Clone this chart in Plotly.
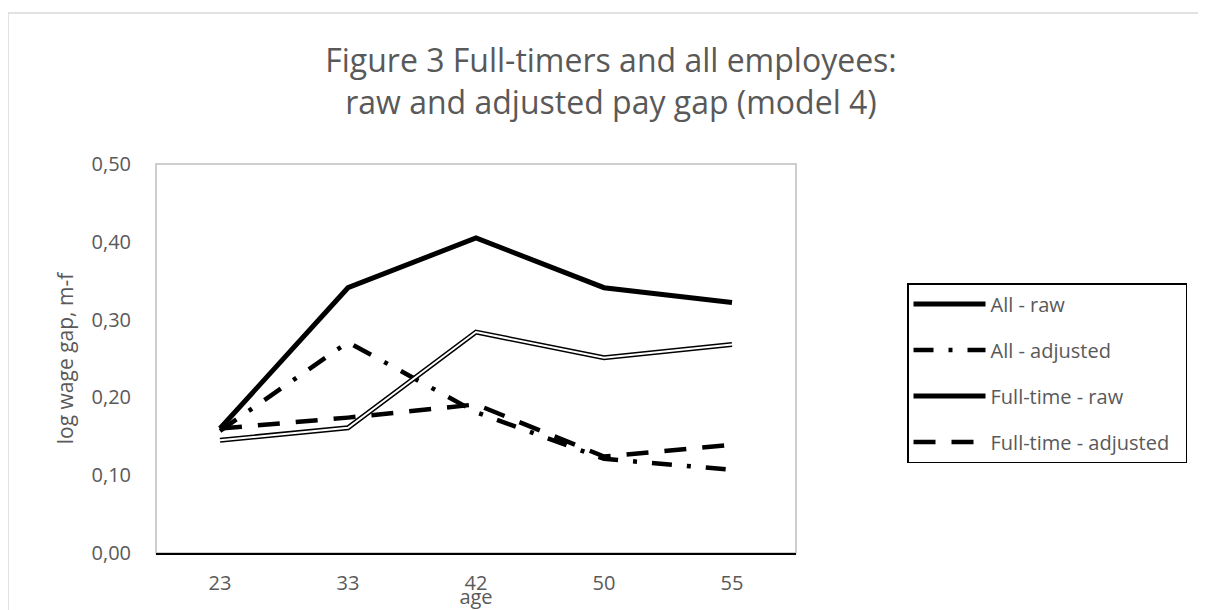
import plotly.graph_objects as go

ages = ["23", "33", "42", "50", "55"]
all_raw = [0.160, 0.341, 0.405, 0.341, 0.322]
all_adj = [0.157, 0.271, 0.181, 0.121, 0.107]
ft_raw = [0.145, 0.161, 0.284, 0.251, 0.268]
ft_adj = [0.160, 0.174, 0.191, 0.124, 0.139]

# page has an 8px body margin, so figure coords = page coords - 8
OFF = 8
W, H = 1206 - OFF, 610 - OFF
L, R, T, B = 156 - OFF, 796 - OFF, 164 - OFF, 553 - OFF
FONT = "Open Sans"
GRAY = "#595959"

fig = go.Figure()
fig.add_trace(go.Scatter(x=ages, y=all_raw, mode="lines", name="All - raw",
                         legendgroup="a", line=dict(color="black", width=5)))
fig.add_trace(go.Scatter(x=ages, y=all_adj, mode="lines", name="All - adjusted",
                         legendgroup="b", line=dict(color="black", width=4.5, dash="20px,15px,4px,15px")))
fig.add_trace(go.Scatter(x=ages, y=ft_raw, mode="lines", name="Full-time - raw",
                         legendgroup="c", line=dict(color="black", width=5)))
fig.add_trace(go.Scatter(x=ages, y=ft_raw, mode="lines", name="Full-time - raw",
                         legendgroup="c", showlegend=False, hoverinfo="skip",
                         line=dict(color="white", width=2)))
fig.add_trace(go.Scatter(x=ages, y=ft_adj, mode="lines", name="Full-time - adjusted\u00a0\u00a0",
                         legendgroup="d", line=dict(color="black", width=4.5, dash="22px,16px")))

pw, ph = R - L, B - T


def px_x(v):
    return (v - OFF - L) / pw


def px_y(v):
    return (B - (v - OFF)) / ph


fig.update_layout(
    width=W, height=H,
    margin=dict(l=L, r=W - R, t=T, b=H - B, autoexpand=False),
    paper_bgcolor="white", plot_bgcolor="white",
    separators=",.",
    font=dict(family=FONT, color=GRAY, size=20),
    title=dict(text="Figure 3 Full-timers and all employees:<br>raw and adjusted pay gap (model 4)",
               x=(611 - OFF) / W, xanchor="center", xref="container",
               y=1 - (72 - OFF) / H, yanchor="top", yref="container",
               font=dict(family=FONT, size=32, color=GRAY)),
    xaxis=dict(type="category", range=[-0.5, 4.5], showgrid=False, zeroline=False,
               automargin=False,
               showline=True, linecolor="black", linewidth=2,
               ticks="outside", ticklen=11, tickcolor="rgba(0,0,0,0)",
               tickfont=dict(size=20, color=GRAY),
               title=dict(text="age", standoff=0, font=dict(size=20, color=GRAY))),
    yaxis=dict(range=[0, 0.5], dtick=0.1, tickformat=".2f", showgrid=False,
               zeroline=False, showline=False, automargin=False,
               ticks="outside", ticklen=20, tickcolor="rgba(0,0,0,0)",
               tickfont=dict(size=20, color=GRAY),
               title=dict(text="log wage gap, m-f", standoff=12, font=dict(size=21, color=GRAY))),
    legend=dict(x=px_x(907), y=px_y(283), xanchor="left", yanchor="top",
                bordercolor="black", borderwidth=1.5, bgcolor="white",
                font=dict(size=20, color=GRAY), itemwidth=72,
                traceorder="grouped", tracegroupgap=17),
    shapes=[
        dict(type="rect", xref="paper", yref="paper", x0=0, x1=1, y0=0, y1=1,
             line=dict(color="#BFBFBF", width=1.5), layer="below"),
        dict(type="rect", xref="paper", yref="paper",
             x0=px_x(8), x1=px_x(1225), y0=px_y(640), y1=px_y(13),
             line=dict(color="#D9D9D9", width=1.5), layer="below"),
    ],
)

fig.write_html("out.html")
